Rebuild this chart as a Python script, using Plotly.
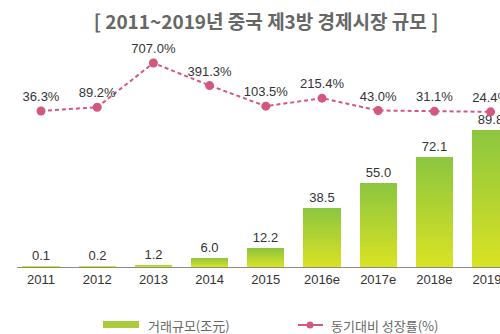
import plotly.graph_objects as go

# Chinese third-party payment market, 2011-2019
years = ["2011", "2012", "2013", "2014", "2015", "2016e", "2017e", "2018e", "2019e"]
volume = [0.1, 0.2, 1.2, 6.0, 12.2, 38.5, 55.0, 72.1, 89.8]          # 거래규모 (조元)
growth = [36.3, 89.2, 707.0, 391.3, 103.5, 215.4, 43.0, 31.1, 24.4]  # 동기대비 성장률 (%)

W, H = 500, 334
ML, MR, MT, MB = 17, 0, 55, 67
PW, PH = W - ML - MR, H - MT - MB

TOP_GREEN = (141, 198, 63)
BOTTOM_YELLOW = (216, 226, 36)
PINK = "#d4587e"
NUM_FONT = "Liberation Sans, Arial, sans-serif"
KR_FONT = "Noto Sans CJK KR, sans-serif"


def mix(a, b, t):
    return "rgb({},{},{})".format(*[round(a[i] + (b[i] - a[i]) * t) for i in range(3)])


def px_x(x):
    return (x - ML) / PW


def px_y(y):
    return (H - MB - y) / PH


fig = go.Figure()

# vertical gradient on the bars: stacked overlays of shrinking height
steps = 24
for k in range(steps):
    frac = (steps - k) / steps
    fig.add_trace(go.Bar(
        x=list(range(len(years))),
        y=[v * frac for v in volume],
        width=0.66,
        marker=dict(color=mix(TOP_GREEN, BOTTOM_YELLOW, k / (steps - 1)), line=dict(width=0)),
        text=[f"{v:.1f}" for v in volume] if k == 0 else None,
        textposition="outside" if k == 0 else "none",
        textfont=dict(family=NUM_FONT, size=13, color="#333333"),
        hoverinfo="skip" if k else None,
        showlegend=False,
        yaxis="y",
    ))

fig.add_trace(go.Scatter(
    x=list(range(len(years))),
    y=growth,
    mode="lines+markers+text",
    line=dict(color=PINK, width=2, dash="4px,3px"),
    marker=dict(color=PINK, size=9),
    text=[f"{v:.1f}%" for v in growth],
    textposition="top center",
    textfont=dict(family=NUM_FONT, size=13, color="#333333"),
    showlegend=False,
    yaxis="y2",
    cliponaxis=False,
))

shapes = [
    # legend swatch for the bars
    dict(type="rect", xref="paper", yref="paper",
         x0=px_x(103), x1=px_x(139), y0=px_y(328), y1=px_y(321),
         fillcolor="#a9cb3c", line=dict(width=0)),
    # legend line for growth rate
    dict(type="line", xref="paper", yref="paper",
         x0=px_x(298), x1=px_x(323), y0=px_y(325), y1=px_y(325),
         line=dict(color=PINK, width=2)),
    dict(type="circle", xref="paper", yref="paper",
         x0=px_x(306.5), x1=px_x(313.5), y0=px_y(328.5), y1=px_y(321.5),
         fillcolor=PINK, line=dict(width=0)),
]

annotations = [
    dict(text="거래규모(조元)", xref="paper", yref="paper", x=px_x(146), y=px_y(325),
         xanchor="left", yanchor="middle", showarrow=False,
         font=dict(family=KR_FONT, size=13, color="#666666")),
    dict(text="동기대비 성장률(%)", xref="paper", yref="paper", x=px_x(329), y=px_y(325),
         xanchor="left", yanchor="middle", showarrow=False,
         font=dict(family=KR_FONT, size=13, color="#666666")),
]

fig.update_layout(
    width=W, height=H,
    margin=dict(l=ML, r=MR, t=MT, b=MB, pad=0, autoexpand=False),
    paper_bgcolor="white", plot_bgcolor="white",
    barmode="overlay",
    bargap=0,
    title=dict(text="[ 2011~2019년 중국 제3방 경제시장 규모 ]",
               x=266 / W, xanchor="center", y=1 - 22 / H, yanchor="middle",
               font=dict(family=KR_FONT, size=19, color="#666666", weight=700)),
    xaxis=dict(
        range=[-0.427, 8.167],
        tickmode="array", tickvals=list(range(len(years))), ticktext=years,
        ticklabeloverflow="allow",
        automargin=False,
        showline=True, linecolor="#8a8a8a", linewidth=1,
        showgrid=False, zeroline=False, ticks="",
        tickfont=dict(family=NUM_FONT, size=13, color="#333333"),
        fixedrange=True,
    ),
    yaxis=dict(range=[0, PH / 1.53], visible=False, fixedrange=True, automargin=False),
    yaxis2=dict(range=[-2142, 818], overlaying="y", visible=False, fixedrange=True,
                automargin=False),
    shapes=shapes,
    annotations=annotations,
    showlegend=False,
)

fig.write_html("out.html")
